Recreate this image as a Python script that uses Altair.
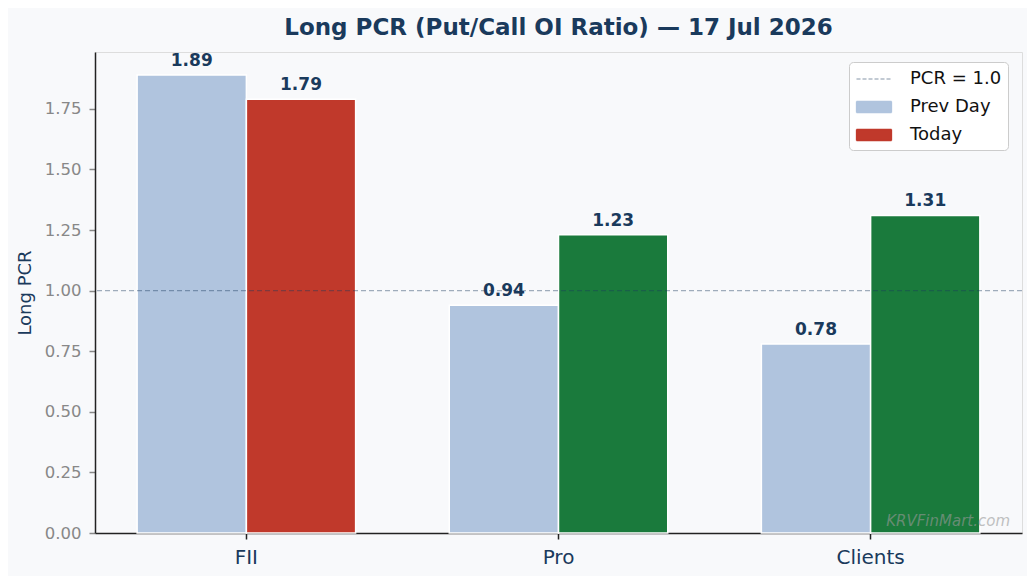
import altair as alt
import pandas as pd

groups = ["FII", "Pro", "Clients"]
prev_day = [1.89, 0.94, 0.78]
today = [1.79, 1.23, 1.31]
series_names = ["Prev Day", "Today"]
legend_entries = ["PCR = 1.0", "Prev Day", "Today"]
color_domain = ["PCR = 1.0", "Prev Day", "Today", "Today up"]
color_range = ["#1a3a5c", "#b0c4de", "#c0392b", "#1a7a3c"]
y_ticks = [0.0, 0.25, 0.5, 0.75, 1.0, 1.25, 1.5, 1.75]
ref_level = [1.0]
watermark = ["KRVFinMart.com"]

rows = []
for g, p, t in zip(groups, prev_day, today):
    rows.append({"group": g, "series": "Prev Day", "value": p, "key": "Prev Day"})
    rows.append({"group": g, "series": "Today", "value": t,
                 "key": "Today" if t < p else "Today up"})
df = pd.DataFrame(rows)

W, H = 927, 481
ymax = max(prev_day + today) * 1.05

x_enc = alt.X("group:N", sort=groups,
              scale=alt.Scale(paddingInner=0.3, paddingOuter=0.135),
              axis=alt.Axis(title=None, labelAngle=0, labelColor="#1a3a5c",
                            labelFontSize=20, labelPadding=8, tickColor="#222222",
                            tickSize=6, tickWidth=1.5, domainColor="#222222",
                            domainWidth=1.5))
xo_enc = alt.XOffset("series:N", sort=series_names,
                     scale=alt.Scale(paddingInner=0, paddingOuter=0))
y_enc = alt.Y("value:Q", scale=alt.Scale(domain=[0, ymax], nice=False),
              axis=alt.Axis(title="Long PCR", values=y_ticks, format=".2f",
                            labelColor="#888888", labelFontSize=16.5,
                            labelPadding=8, tickColor="#888888", tickSize=6,
                            tickWidth=1.5, domainColor="#222222",
                            domainWidth=1.5, titleColor="#1a3a5c",
                            titleFontSize=18, titleFontWeight="normal",
                            titlePadding=10, grid=False))

is_ref = "datum.label === 'PCR = 1.0'"
legend = alt.Legend(
    title=None, values=legend_entries, orient="none", legendX=754, legendY=10,
    labelFontSize=18, labelColor="#111111", padding=6, rowPadding=8,
    symbolSize=400, symbolOffset=8, labelOffset=25,
    fillColor="#ffffff", strokeColor="#cccccc", cornerRadius=4,
    symbolType={"expr": is_ref + " ? 'M-1.75,0H1.75' : 'M-1.75,-0.55H1.75V0.55H-1.75Z'"},
    symbolDash={"expr": is_ref + " ? [4, 2] : [1, 0]"},
    symbolFillColor={"expr": is_ref + " ? 'transparent' : scale('color', datum.value)"},
    symbolStrokeColor={"expr": is_ref + " ? '#1a3a5c' : 'transparent'"},
    symbolOpacity={"expr": is_ref + " ? 0.35 : 1"},
    symbolStrokeWidth=1.3,
)

color_enc = alt.Color("key:N", scale=alt.Scale(domain=color_domain, range=color_range),
                      legend=legend)

base = alt.Chart(df).encode(x=x_enc, xOffset=xo_enc, y=y_enc)

bars = base.mark_bar(stroke="white", strokeWidth=1.5).encode(color=color_enc)

labels = base.mark_text(dy=-5, baseline="bottom", fontWeight="bold",
                        fontSize=17, color="#1a3a5c", font="DejaVu Sans").encode(
    text=alt.Text("value:Q", format=".2f"))

rule = alt.Chart(pd.DataFrame({"level": ref_level, "key": ["PCR = 1.0"]})).mark_rule(
    strokeDash=[5, 3], strokeWidth=1.3, opacity=0.4).encode(
    y="level:Q", color=alt.Color("key:N", scale=alt.Scale(domain=color_domain, range=color_range),
                                 legend=legend))

wm = alt.Chart(pd.DataFrame({"t": watermark})).mark_text(
    align="right", baseline="middle", fontStyle="italic", fontSize=15,
    color="#999999", opacity=0.6, font="DejaVu Sans").encode(
    text="t:N", x=alt.value(W - 12), y=alt.value(H - 12))

chart = alt.layer(bars, rule, labels, wm).properties(
    width=W, height=H,
    title=alt.Title("Long PCR (Put/Call OI Ratio) — 17 Jul 2026", fontSize=23,
                    fontWeight="bold", color="#1a3a5c", anchor="middle",
                    offset=12, font="DejaVu Sans"),
    background="#f8f9fb",
    padding={"left": 87, "top": 44, "right": 5, "bottom": 43},
    autosize=alt.AutoSizeParams(type="none"),
).configure_view(stroke=None).configure(font="DejaVu Sans")

chart.save("out.html", embed_options={"renderer": "svg", "actions": False})
